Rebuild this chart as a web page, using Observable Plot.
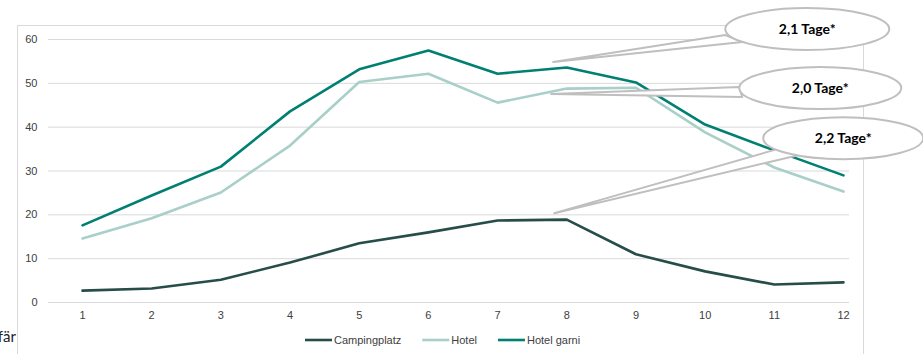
<!DOCTYPE html>
<html><head><meta charset="utf-8">
<script src="https://cdn.jsdelivr.net/npm/d3@7"></script>
<script src="https://cdn.jsdelivr.net/npm/@observablehq/plot@0.6"></script>
<style>
body{margin:0;background:#fff;overflow:hidden}
#chart{position:relative;width:923px;height:354px;overflow:hidden}
</style>
</head><body><div id="chart"></div>
<script>
// ---- data ----
const months = [1,2,3,4,5,6,7,8,9,10,11,12];
const seriesNames = ["Campingplatz","Hotel","Hotel garni"];
const campingplatz = [2.7,3.2,5.2,9.1,13.5,16.0,18.7,18.9,11.0,7.1,4.1,4.6];
const hotel        = [14.6,19.2,25.1,35.8,50.3,52.2,45.6,48.8,49.0,38.8,30.8,25.3];
const hotelGarni   = [17.6,24.4,31.0,43.6,53.2,57.5,52.2,53.6,50.2,40.6,34.7,29.0];
const yTicks = [0,10,20,30,40,50,60];
const calloutLabels = ["2,1 Tage*","2,0 Tage*","2,2 Tage*"];
const calloutSeries = ["Hotel garni","Hotel","Campingplatz"];
const calloutMonth = 8;
const sideText = "fär";

// ---- styles ----
const colors = ["#274d49","#a8cfc8","#007f73"];
const calloutStyle = [
  {tip:[-13,-5], center:[241,-38], rx:82, ry:21, b1:[-82,6],  b2:[-65,13]},
  {tip:[-15,6],  center:[254,0],   rx:81, ry:21, b1:[-81,-1], b2:[-78,9]},
  {tip:[-12,-6], center:[277,-81], rx:80, ry:21, b1:[-66,11], b2:[-45,17]}
];

const valuesBySeries = {"Campingplatz": campingplatz, "Hotel": hotel, "Hotel garni": hotelGarni};
const data = seriesNames.flatMap(s => months.map((m,i) => ({month:m, series:s, value:valuesBySeries[s][i]})));

const plot = Plot.plot({
  width: 923, height: 354,
  marginLeft: 48, marginRight: 74, marginTop: 25, marginBottom: 52,
  style: {fontFamily: "'Liberation Sans', Arial, sans-serif", fontSize: "11px", color: "#404040", background: "#fff"},
  x: {domain: [1,12], range: [82,843], ticks: months, tickFormat: d => String(d)},
  y: {domain: [0,60], range: [302,39], ticks: yTicks},
  color: {domain: seriesNames, range: colors},
  marks: [
    Plot.gridY(yTicks, {stroke: "#d9d9d9", strokeOpacity: 1, strokeWidth: 1}),
    Plot.axisY(yTicks, {tickSize: 0, tickPadding: 11, label: null, fill: "#404040"}),
    Plot.axisX(months, {tickSize: 0, tickPadding: 9, label: null, fill: "#404040"}),
    Plot.line(data, {x: "month", y: "value", stroke: "series", z: "series", strokeWidth: 2.6, strokeLinejoin: "round", strokeLinecap: "round"})
  ]
});
document.getElementById("chart").appendChild(plot);

const svg = d3.select(plot);
const xs = plot.scale("x").apply, ys = plot.scale("y").apply;

// outer chart frame
svg.insert("rect", ":first-child")
  .attr("x", 17.5).attr("y", 25.5).attr("width", 846).attr("height", 340)
  .attr("fill", "none").attr("stroke", "#d9d9d9").attr("stroke-width", 1);

// callouts
const g = svg.append("g");
calloutLabels.forEach((label, i) => {
  const st = calloutStyle[i];
  const v = valuesBySeries[calloutSeries[i]][months.indexOf(calloutMonth)];
  const px = xs(calloutMonth), py = ys(v);
  const tip = [px + st.tip[0], py + st.tip[1]];
  const c = [px + st.center[0], py + st.center[1]];
  const b1 = [c[0] + st.b1[0], c[1] + st.b1[1]];
  const b2 = [c[0] + st.b2[0], c[1] + st.b2[1]];
  g.append("path").attr("d", `M${b1}L${tip}L${b2}Z`)
    .attr("fill", "#fff").attr("stroke", "#bfbfbf").attr("stroke-width", 2).attr("stroke-linejoin", "round");
  g.append("ellipse").attr("cx", c[0]).attr("cy", c[1]).attr("rx", st.rx).attr("ry", st.ry)
    .attr("fill", "#fff").attr("stroke", "#bfbfbf").attr("stroke-width", 2);
  g.append("text").attr("x", c[0]).attr("y", c[1] + 1).attr("text-anchor", "middle").attr("dominant-baseline", "middle")
    .attr("font-family", "Lato, 'Open Sans', sans-serif").attr("font-weight", "bold").attr("font-size", 14).attr("fill", "#000")
    .text(label);
});

// legend
const lg = svg.append("g").attr("font-size", 11).attr("fill", "#404040").attr("text-anchor", "start");
let lx = 305;
seriesNames.forEach((s, i) => {
  lg.append("line").attr("x1", lx).attr("x2", lx + 27).attr("y1", 340).attr("y2", 340)
    .attr("stroke", colors[i]).attr("stroke-width", 2.6);
  const t = lg.append("text").attr("x", lx + 29).attr("y", 340).attr("dy", "0.35em").text(s);
  lx += 29 + t.node().getComputedTextLength() + 21;
});

// side text (cut off at left edge)
svg.append("text").attr("x", 16).attr("y", 342).attr("text-anchor", "end").attr("font-family", "Lato, 'Open Sans', sans-serif")
  .attr("font-size", 15).attr("fill", "#222").text(sideText);
</script>
</body></html>
